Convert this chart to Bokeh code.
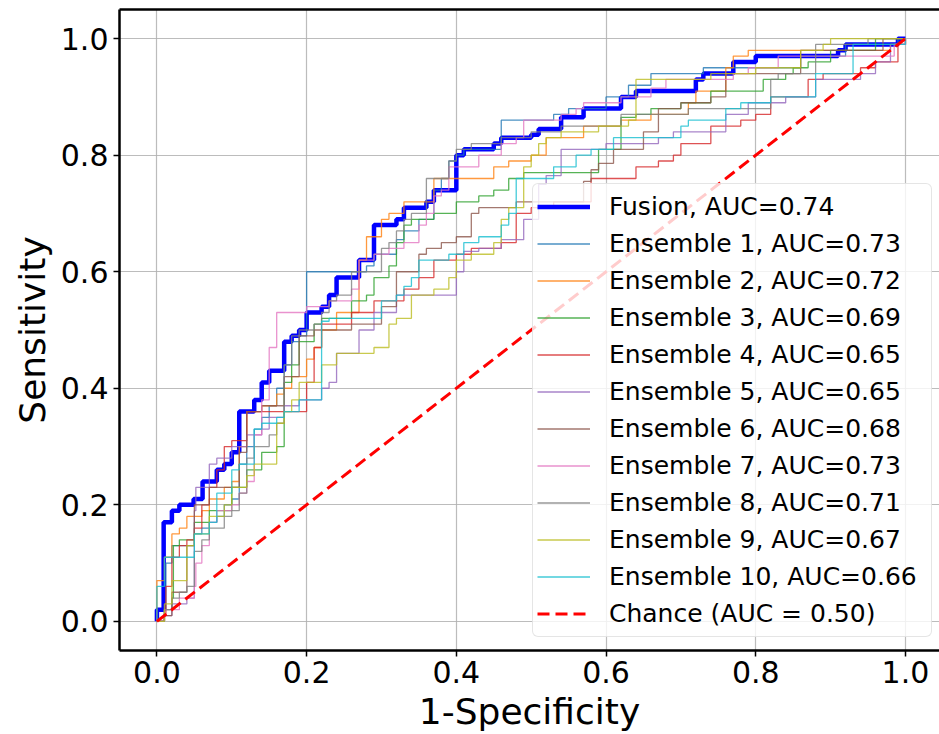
from bokeh.plotting import figure
from bokeh.models import Range1d, Legend, LegendItem, FixedTicker, LinearAxis, NumeralTickFormatter
from bokeh.embed import file_html
from bokeh.resources import INLINE

# ---- data: ROC step points (fpr, tpr) ----
fusion = [(0, 0), (0, 0.02), (0.009, 0.17), (0.02, 0.19), (0.03, 0.20), (0.049, 0.21), (0.061, 0.24),
          (0.08, 0.26), (0.09, 0.27), (0.10, 0.29), (0.11, 0.36), (0.13, 0.38), (0.14, 0.41), (0.15, 0.43),
          (0.17, 0.48), (0.18, 0.49), (0.19, 0.50), (0.20, 0.53), (0.22, 0.54), (0.23, 0.56), (0.24, 0.59),
          (0.27, 0.62), (0.29, 0.68), (0.32, 0.69), (0.33, 0.71), (0.36, 0.72), (0.37, 0.74), (0.40, 0.80),
          (0.41, 0.81), (0.45, 0.82), (0.46, 0.83), (0.50, 0.835), (0.51, 0.845), (0.54, 0.865), (0.57, 0.88),
          (0.62, 0.90), (0.64, 0.91), (0.72, 0.93), (0.73, 0.94), (0.77, 0.96), (0.80, 0.97), (0.91, 0.98),
          (0.92, 0.99), (0.99, 1.0), (1.0, 1.0)]

ens1 = [(0, 0), (0.01, 0.02), (0.012, 0.10), (0.02, 0.13), (0.05, 0.15), (0.06, 0.16), (0.07, 0.17),
        (0.08, 0.18), (0.09, 0.20), (0.10, 0.21), (0.11, 0.27), (0.12, 0.30), (0.13, 0.33), (0.14, 0.35),
        (0.15, 0.37), (0.16, 0.40), (0.17, 0.44), (0.18, 0.48), (0.19, 0.49), (0.20, 0.60), (0.28, 0.61),
        (0.29, 0.63), (0.32, 0.655), (0.33, 0.67), (0.35, 0.69), (0.37, 0.74), (0.38, 0.76), (0.39, 0.79),
        (0.40, 0.80), (0.41, 0.81), (0.46, 0.86), (0.53, 0.87), (0.55, 0.88), (0.60, 0.90), (0.63, 0.92),
        (0.66, 0.94), (0.73, 0.95), (0.86, 0.97), (0.92, 0.99), (0.99, 1.0), (1.0, 1.0)]

ens2 = [(0, 0), (0, 0.07), (0.01, 0.11), (0.02, 0.15), (0.03, 0.16), (0.04, 0.18), (0.06, 0.19),
        (0.07, 0.21), (0.09, 0.23), (0.10, 0.24), (0.11, 0.30), (0.12, 0.36), (0.14, 0.37), (0.16, 0.39),
        (0.17, 0.40), (0.18, 0.42), (0.20, 0.45), (0.21, 0.47), (0.22, 0.50), (0.24, 0.53), (0.27, 0.62),
        (0.28, 0.66), (0.30, 0.69), (0.31, 0.70), (0.33, 0.72), (0.37, 0.76), (0.45, 0.78), (0.47, 0.79),
        (0.50, 0.80), (0.52, 0.83), (0.57, 0.85), (0.62, 0.86), (0.66, 0.87), (0.71, 0.89), (0.72, 0.91),
        (0.76, 0.95), (0.77, 0.97), (0.79, 0.98), (0.98, 0.99), (1.0, 1.0)]

ens3 = [(0, 0), (0.01, 0.02), (0.02, 0.04), (0.022, 0.13), (0.03, 0.14), (0.05, 0.17), (0.07, 0.19),
        (0.10, 0.23), (0.12, 0.26), (0.14, 0.29), (0.16, 0.30), (0.17, 0.41), (0.18, 0.44), (0.19, 0.48),
        (0.21, 0.51), (0.22, 0.52), (0.26, 0.55), (0.28, 0.56), (0.29, 0.59), (0.31, 0.61), (0.32, 0.65),
        (0.33, 0.68), (0.34, 0.69), (0.37, 0.70), (0.40, 0.72), (0.43, 0.73), (0.45, 0.74), (0.47, 0.76),
        (0.49, 0.77), (0.59, 0.81), (0.62, 0.865), (0.64, 0.87), (0.66, 0.88), (0.70, 0.89), (0.74, 0.91),
        (0.81, 0.93), (0.84, 0.94), (0.85, 0.95), (0.87, 0.96), (0.90, 0.98), (0.96, 1.0), (1.0, 1.0)]

ens4 = [(0, 0), (0.01, 0.01), (0.012, 0.06), (0.02, 0.11), (0.03, 0.13), (0.04, 0.14), (0.05, 0.16),
        (0.06, 0.20), (0.07, 0.23), (0.08, 0.26), (0.09, 0.30), (0.10, 0.31), (0.12, 0.36), (0.20, 0.41),
        (0.21, 0.47), (0.22, 0.51), (0.26, 0.53), (0.29, 0.55), (0.33, 0.57), (0.35, 0.59), (0.37, 0.62),
        (0.40, 0.63), (0.42, 0.64), (0.46, 0.65), (0.48, 0.70), (0.50, 0.71), (0.53, 0.72), (0.58, 0.76),
        (0.64, 0.78), (0.67, 0.79), (0.69, 0.80), (0.70, 0.82), (0.74, 0.85), (0.78, 0.86), (0.80, 0.87),
        (0.82, 0.90), (0.87, 0.93), (0.89, 0.94), (0.94, 0.95), (0.96, 0.96), (0.99, 0.99), (1.0, 1.0)]

ens5 = [(0, 0), (0.01, 0.01), (0.02, 0.03), (0.04, 0.04), (0.05, 0.19), (0.052, 0.23), (0.07, 0.27),
        (0.08, 0.28), (0.10, 0.30), (0.12, 0.32), (0.14, 0.33), (0.15, 0.35), (0.17, 0.37), (0.19, 0.38),
        (0.22, 0.40), (0.23, 0.41), (0.24, 0.46), (0.27, 0.50), (0.29, 0.53), (0.32, 0.56), (0.40, 0.60),
        (0.41, 0.635), (0.43, 0.64), (0.46, 0.655), (0.49, 0.69), (0.51, 0.75), (0.52, 0.765), (0.54, 0.81),
        (0.60, 0.82), (0.67, 0.83), (0.69, 0.84), (0.76, 0.87), (0.79, 0.89), (0.84, 0.90), (0.88, 0.93),
        (0.94, 0.94), (0.96, 0.96), (0.98, 0.99), (1.0, 1.0)]

ens6 = [(0, 0), (0.01, 0.01), (0.02, 0.05), (0.04, 0.13), (0.05, 0.20), (0.07, 0.23), (0.11, 0.29),
        (0.12, 0.36), (0.14, 0.37), (0.17, 0.42), (0.19, 0.49), (0.21, 0.50), (0.26, 0.51), (0.30, 0.54),
        (0.32, 0.60), (0.35, 0.63), (0.36, 0.64), (0.38, 0.65), (0.40, 0.66), (0.42, 0.70), (0.43, 0.71),
        (0.48, 0.72), (0.57, 0.755), (0.58, 0.775), (0.59, 0.786), (0.61, 0.81), (0.65, 0.84), (0.67, 0.88),
        (0.70, 0.89), (0.74, 0.90), (0.76, 0.94), (0.86, 0.98), (0.97, 1.0), (1.0, 1.0)]

ens7 = [(0, 0), (0.01, 0.02), (0.03, 0.04), (0.05, 0.06), (0.052, 0.10), (0.06, 0.13), (0.07, 0.17),
        (0.08, 0.19), (0.10, 0.20), (0.11, 0.22), (0.12, 0.24), (0.13, 0.32), (0.14, 0.38), (0.15, 0.47),
        (0.16, 0.53), (0.20, 0.54), (0.23, 0.55), (0.26, 0.57), (0.27, 0.62), (0.29, 0.63), (0.31, 0.64),
        (0.33, 0.65), (0.35, 0.68), (0.36, 0.70), (0.37, 0.73), (0.38, 0.74), (0.39, 0.78), (0.43, 0.80),
        (0.46, 0.82), (0.48, 0.83), (0.49, 0.86), (0.54, 0.87), (0.56, 0.88), (0.57, 0.89), (0.62, 0.90),
        (0.66, 0.915), (0.68, 0.93), (0.77, 0.94), (0.79, 0.95), (0.83, 0.97), (0.985, 0.99), (1.0, 1.0)]

ens8 = [(0, 0), (0.01, 0.02), (0.02, 0.04), (0.03, 0.05), (0.04, 0.06), (0.05, 0.12), (0.06, 0.14),
        (0.07, 0.16), (0.09, 0.18), (0.10, 0.19), (0.11, 0.22), (0.12, 0.28), (0.13, 0.30), (0.15, 0.32),
        (0.16, 0.34), (0.17, 0.44), (0.18, 0.49), (0.19, 0.50), (0.21, 0.51), (0.22, 0.53), (0.23, 0.55),
        (0.24, 0.56), (0.26, 0.60), (0.30, 0.64), (0.31, 0.65), (0.32, 0.67), (0.33, 0.69), (0.34, 0.70),
        (0.36, 0.76), (0.39, 0.79), (0.40, 0.81), (0.42, 0.82), (0.46, 0.83), (0.50, 0.84), (0.54, 0.85),
        (0.62, 0.87), (0.71, 0.88), (0.82, 0.93), (0.83, 0.94), (0.88, 0.99), (0.95, 1.0), (1.0, 1.0)]

ens9 = [(0, 0), (0.01, 0.03), (0.02, 0.07), (0.04, 0.13), (0.05, 0.15), (0.07, 0.18), (0.09, 0.20),
        (0.10, 0.23), (0.12, 0.25), (0.13, 0.27), (0.16, 0.34), (0.17, 0.36), (0.18, 0.38), (0.19, 0.41),
        (0.22, 0.44), (0.24, 0.46), (0.29, 0.47), (0.31, 0.51), (0.32, 0.52), (0.34, 0.56), (0.37, 0.57),
        (0.39, 0.59), (0.40, 0.62), (0.42, 0.63), (0.45, 0.65), (0.46, 0.69), (0.47, 0.71), (0.49, 0.78),
        (0.50, 0.80), (0.51, 0.82), (0.52, 0.83), (0.54, 0.84), (0.59, 0.85), (0.63, 0.86), (0.64, 0.93),
        (0.74, 0.94), (0.80, 0.95), (0.86, 0.98), (0.89, 0.99), (0.90, 1.0), (1.0, 1.0)]

ens10 = [(0, 0), (0, 0.06), (0.01, 0.11), (0.05, 0.15), (0.07, 0.17), (0.08, 0.22), (0.10, 0.26),
         (0.11, 0.27), (0.13, 0.33), (0.14, 0.34), (0.16, 0.35), (0.17, 0.36), (0.19, 0.38), (0.22, 0.515),
         (0.23, 0.52), (0.30, 0.55), (0.32, 0.56), (0.33, 0.575), (0.34, 0.59), (0.35, 0.62), (0.39, 0.63),
         (0.41, 0.65), (0.43, 0.66), (0.46, 0.68), (0.47, 0.70), (0.48, 0.76), (0.53, 0.78), (0.56, 0.80),
         (0.58, 0.81), (0.61, 0.83), (0.70, 0.85), (0.71, 0.86), (0.76, 0.88), (0.78, 0.89), (0.82, 0.90),
         (0.88, 0.94), (0.93, 0.99), (1.0, 1.0)]

chance_fpr = [0, 1]
chance_tpr = [0, 1]

ens_curves = [ens1, ens2, ens3, ens4, ens5, ens6, ens7, ens8, ens9, ens10]
ens_auc = ["0.73", "0.72", "0.69", "0.65", "0.65", "0.68", "0.73", "0.71", "0.67", "0.66"]
fusion_auc = "0.74"
ens_colors = ["#1f77b4", "#ff7f0e", "#2ca02c", "#d62728", "#9467bd",
              "#8c564b", "#e377c2", "#7f7f7f", "#bcbd22", "#17becf"]
ticks = [0.0, 0.2, 0.4, 0.6, 0.8, 1.0]

FONT = "DejaVu Sans"

p = figure(width=939, height=734, output_backend="svg", toolbar_location=None,
           x_range=Range1d(-0.05, 1.0455), y_range=Range1d(-0.05, 1.05),
           min_border_left=119, min_border_right=0, min_border_top=9, min_border_bottom=83)
p.outline_line_color = None
p.background_fill_color = "white"
p.border_fill_color = "white"

for ax in (p.xaxis[0], p.yaxis[0]):
    ax.ticker = FixedTicker(ticks=ticks)
    ax.formatter = NumeralTickFormatter(format="0.0")
    ax.axis_line_width = 2.5
    ax.axis_line_color = "black"
    ax.major_tick_line_width = 1.5
    ax.major_tick_line_color = "black"
    ax.major_tick_out = 6
    ax.major_tick_in = 0
    ax.minor_tick_line_color = None
    ax.major_label_text_font = FONT
    ax.major_label_text_font_size = "30px"
    ax.major_label_text_color = "black"
    ax.axis_label_text_font = FONT
    ax.axis_label_text_font_size = "36px"
    ax.axis_label_text_font_style = "normal"
    ax.axis_label_text_color = "black"

p.xaxis.axis_label = "1-Specificity"
p.yaxis.axis_label = "Sensitivity"
p.xaxis.major_label_standoff = 4
p.xaxis.axis_label_standoff = 5
p.yaxis.major_label_standoff = 5
p.yaxis.axis_label_standoff = 5

top_axis = LinearAxis(ticker=FixedTicker(ticks=[]), axis_line_width=2.5, axis_line_color="black",
                      major_tick_out=0, major_tick_in=0, minor_tick_out=0, minor_tick_in=0,
                      major_label_text_font_size="0px", major_label_standoff=0)
p.add_layout(top_axis, "above")

for g in (p.xgrid[0], p.ygrid[0]):
    g.ticker = FixedTicker(ticks=ticks)
    g.grid_line_color = "#b0b0b0"
    g.grid_line_width = 1.2
    g.grid_line_alpha = 0.85

items = []
fx = [pt[0] for pt in fusion]
fy = [pt[1] for pt in fusion]
r = p.step(fx, fy, mode="after", line_color="#0000ff", line_width=4.5)
items.append(LegendItem(label="Fusion, AUC=" + fusion_auc, renderers=[r]))

for i, (curve, col, auc) in enumerate(zip(ens_curves, ens_colors, ens_auc)):
    xs = [pt[0] for pt in curve]
    ys = [pt[1] for pt in curve]
    r = p.step(xs, ys, mode="after", line_color=col, line_width=1.3, line_alpha=0.8)
    items.append(LegendItem(label="Ensemble %d, AUC=%s" % (i + 1, auc), renderers=[r]))

r = p.line(chance_fpr, chance_tpr, line_color="red", line_width=3, line_dash="12 6")
items.append(LegendItem(label="Chance (AUC = 0.50)", renderers=[r]))

legend = Legend(items=items, location=(413, 13))
legend.label_text_font = FONT
legend.label_text_font_size = "25px"
legend.label_text_color = "black"
legend.glyph_width = 53
legend.glyph_height = 37
legend.label_height = 37
legend.label_width = 318
legend.label_standoff = 19
legend.spacing = 0
legend.padding = 4
legend.margin = 0
legend.border_line_color = "#cccccc"
legend.border_line_width = 1.5
legend.background_fill_color = "white"
legend.background_fill_alpha = 0.8
if "border_radius" in Legend.properties():
    legend.border_radius = 6
p.add_layout(legend)

open("out.html", "w").write(file_html(p, INLINE))
